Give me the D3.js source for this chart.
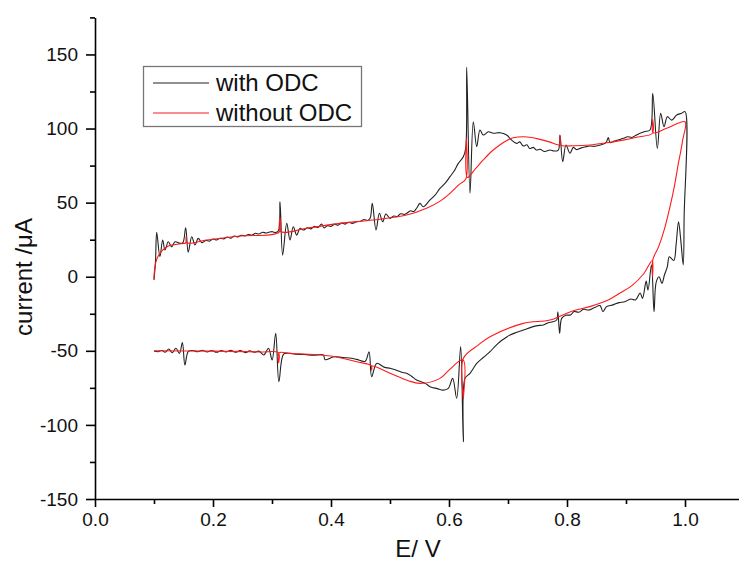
<!DOCTYPE html>
<html><head><meta charset="utf-8">
<script src="https://cdn.jsdelivr.net/npm/d3@7"></script>
<style>
html,body{margin:0;padding:0;background:#fff;}
svg{display:block;font-family:"Liberation Sans",Arial,sans-serif;}
</style></head>
<body><svg id="c" width="739" height="562"></svg>
<script>
// ---- data (E / V, current / µA) ----
const xTicksMajor = [0.0,0.2,0.4,0.6,0.8,1.0];
const xTicksMinor = [0.1,0.3,0.5,0.7,0.9];
const yTicksMajor = [-150,-100,-50,0,50,100,150];
const yTicksMinor = [-125,-75,-25,25,75,125,175];
const seriesNames = ["with ODC","without ODC"];
const seriesColors = ["#222222","#ff1a1a"];

const withOdcForward = [[0.100,-2],[0.1025,10],[0.1046,30],[0.110,13.5],[0.1147,24.8],[0.1186,18],[0.1242,23.6],[0.130,20.2],[0.1356,23.6],[0.144,22.5],[0.149,23],[0.1537,33],[0.158,16.5],[0.164,27],[0.1695,21.4],[0.175,25.9],[0.181,23],[0.188,24.5],[0.194,24],[0.2,25.5],[0.206,24.8],[0.212,26],[0.218,25.5],[0.224,26.8],[0.23,26],[0.236,27.5],[0.242,26.8],[0.248,28],[0.254,27.5],[0.26,28.5],[0.266,28],[0.272,29.3],[0.278,28.8],[0.284,30],[0.29,29.5],[0.296,30.2],[0.301,30.4],[0.306,29.8],[0.311,31],[0.3136,50.6],[0.318,14.6],[0.325,36],[0.3305,24.8],[0.3361,33.7],[0.3419,28.1],[0.3475,32.7],[0.353,31.5],[0.36,33],[0.366,32.3],[0.372,34],[0.378,33.2],[0.384,35.5],[0.388,33],[0.394,34.5],[0.4,34],[0.406,35.5],[0.412,34.8],[0.418,36.2],[0.424,35.5],[0.43,36.8],[0.436,36],[0.4436,37.1],[0.45,37.5],[0.456,38.6],[0.462,38],[0.4663,39.4],[0.47,49.5],[0.4763,31.5],[0.482,42.8],[0.4876,37.1],[0.493,42.3],[0.5,39.4],[0.506,41],[0.512,40.5],[0.518,42.5],[0.524,42],[0.5283,42.8],[0.535,44.5],[0.54,44],[0.545,46.2],[0.5508,49.5],[0.5564,47.2],[0.5678,51.8],[0.5763,55],[0.5847,59.6],[0.5932,63],[0.6017,67.5],[0.609,71.5],[0.6158,76.5],[0.6243,81],[0.6283,86.6],[0.630,141.3],[0.6356,56.3],[0.6412,104.6],[0.647,87.7],[0.6525,99],[0.6582,95.6],[0.6667,97.8],[0.6751,96.8],[0.6864,97.2],[0.6977,95.6],[0.7062,92.2],[0.7147,90],[0.72,91],[0.7259,88.2],[0.732,89],[0.737,86.5],[0.7429,87.3],[0.748,85.5],[0.7542,86],[0.762,84.5],[0.7712,85.5],[0.778,84.8],[0.7853,85.5],[0.7881,95.6],[0.7927,77.6],[0.7983,88.9],[0.805,83.3],[0.8107,87.3],[0.816,85.8],[0.822,86.6],[0.83,87.5],[0.839,88.2],[0.847,88],[0.856,88.9],[0.862,89.5],[0.867,91.1],[0.870,94],[0.873,90.5],[0.88,91.5],[0.888,92.5],[0.8954,93.4],[0.903,94.5],[0.91,94],[0.917,95.5],[0.9237,96.8],[0.932,98],[0.9407,99],[0.9453,123.8],[0.9531,86.6],[0.9588,110.3],[0.9644,101.2],[0.9701,108],[0.9774,105.7],[0.9859,109.1],[0.9944,110.3],[1.0,111.4]];

const withOdcReverse = [[1.0,111.4],[0.9985,40],[0.997,8],[0.993,24],[0.989,37],[0.985,22],[0.981,11],[0.9735,13.5],[0.970,6.7],[0.965,1],[0.961,-4.5],[0.956,0],[0.951,-4],[0.9475,-23.6],[0.9432,8],[0.9373,-9],[0.9342,-3],[0.928,-14.6],[0.924,-11],[0.916,-15.7],[0.908,-15],[0.898,-16.9],[0.888,-17.5],[0.878,-19],[0.867,-20.2],[0.861,-23.6],[0.856,-19.5],[0.846,-21],[0.837,-22.5],[0.828,-22],[0.82,-24],[0.812,-23.5],[0.806,-25.8],[0.798,-26],[0.791,-28.1],[0.7875,-38.2],[0.7845,-23.6],[0.7825,-29.2],[0.776,-30.4],[0.768,-31],[0.76,-32.6],[0.75,-33],[0.74,-34],[0.726,-36],[0.715,-37.5],[0.7034,-39.3],[0.695,-41.5],[0.6864,-43.9],[0.678,-47],[0.6695,-50.6],[0.658,-54.5],[0.647,-58.5],[0.6356,-65.2],[0.6271,-68.6],[0.6243,-111.3],[0.6198,-47.2],[0.613,-82],[0.6062,-68.6],[0.5989,-75.3],[0.5904,-76.5],[0.58,-75.5],[0.5678,-74.2],[0.56,-72],[0.545,-69.7],[0.536,-67],[0.528,-65.2],[0.52,-64.5],[0.51,-63],[0.5,-61.8],[0.49,-61],[0.4774,-58.5],[0.469,-67.5],[0.4644,-50.6],[0.458,-57],[0.4436,-55.8],[0.435,-55],[0.42,-54.5],[0.405,-54],[0.39,-56],[0.387,-52.8],[0.37,-53],[0.355,-52.5],[0.34,-52.3],[0.3305,-51.7],[0.3197,-52.2],[0.3117,-70.8],[0.3063,-38.2],[0.3002,-56.2],[0.2941,-48.3],[0.2861,-52.8],[0.278,-50.2],[0.27,-51],[0.262,-50],[0.255,-51.2],[0.246,-49.8],[0.238,-51],[0.23,-49.6],[0.222,-50.8],[0.214,-49.8],[0.206,-51],[0.198,-49.8],[0.19,-50.8],[0.182,-49.6],[0.174,-50.6],[0.166,-49.8],[0.158,-50.5],[0.1524,-59.6],[0.1481,-44.5],[0.1432,-51.7],[0.1371,-48.3],[0.131,-51.2],[0.125,-48.8],[0.119,-51],[0.113,-49.8],[0.107,-50.6],[0.1,-50.1]];

const withoutOdcForward = [[0.100,-2],[0.101,5],[0.104,11],[0.110,15.8],[0.122,20.3],[0.150,22.5],[0.1535,22.7],[0.1545,27],[0.1555,22.9],[0.19,24.8],[0.246,27.5],[0.3125,30.3],[0.3135,40],[0.3145,30.5],[0.359,32.7],[0.415,36],[0.472,38.3],[0.528,41.6],[0.562,46.2],[0.585,51],[0.6017,56.3],[0.618,62.5],[0.6285,66],[0.6295,93],[0.631,67],[0.645,73],[0.658,78.8],[0.672,84.5],[0.686,88.9],[0.698,92],[0.709,93.8],[0.726,94.5],[0.74,94],[0.754,92.7],[0.77,91],[0.7875,89],[0.7882,95],[0.789,89],[0.811,88.4],[0.839,88.9],[0.867,90.4],[0.895,92.2],[0.92,94.3],[0.9448,96.8],[0.9453,106],[0.9462,97.2],[0.97,100.3],[1.0,104.6]];

const withoutOdcReverse = [[1.0,104.6],[0.996,92],[0.992,83],[0.989,77],[0.982,61],[0.975,48],[0.965,32],[0.955,20],[0.9455,11.5],[0.945,0],[0.9445,11],[0.93,2],[0.91,-6],[0.89,-11],[0.87,-15.7],[0.84,-20],[0.806,-23.6],[0.771,-29.2],[0.726,-31.5],[0.6695,-40.5],[0.65,-46],[0.6245,-55],[0.6243,-82],[0.6238,-56],[0.60,-63],[0.5847,-68.6],[0.5508,-72],[0.53,-70],[0.5,-65.2],[0.4695,-60.3],[0.469,-63],[0.4685,-60.1],[0.4436,-57.4],[0.40,-53.5],[0.3305,-51.7],[0.3117,-51.4],[0.3113,-58],[0.311,-51.4],[0.28,-50.8],[0.2,-50.2],[0.1,-50]];

// ---- layout ----
const svg = d3.select("#c");
const x = d3.scaleLinear().domain([0,1.1]).range([95,744]);
const y = d3.scaleLinear().domain([-150,175]).range([499,17.4]);
const tickFont = "19px";

// axes
const gx = svg.append("g").attr("transform","translate(0,499)");
gx.call(d3.axisBottom(x).tickValues(xTicksMajor).tickSize(8).tickSizeOuter(0).tickPadding(6).tickFormat(d3.format(".1f")));
const gxm = svg.append("g").attr("transform","translate(0,499)");
gxm.call(d3.axisBottom(x).tickValues(xTicksMinor).tickSize(5).tickFormat(""));
gxm.select(".domain").remove();

const gy = svg.append("g").attr("transform","translate(95,0)");
gy.call(d3.axisLeft(y).tickValues(yTicksMajor).tickSize(9).tickSizeOuter(0).tickPadding(8).tickFormat(d=>String(d)));
const gym = svg.append("g").attr("transform","translate(95,0)");
gym.call(d3.axisLeft(y).tickValues(yTicksMinor).tickSize(5).tickFormat(""));
gym.select(".domain").remove();

svg.selectAll(".domain").attr("stroke","#000").attr("stroke-width",1.6);
svg.selectAll(".tick line").attr("stroke","#000").attr("stroke-width",1.6);
svg.selectAll(".tick text").attr("font-size",tickFont).attr("fill","#111")
   .attr("font-family","'Liberation Sans',Arial,sans-serif");

// axis titles
svg.append("text").attr("x",418).attr("y",557).attr("text-anchor","middle")
  .attr("font-size","24px").attr("fill","#111").text("E/ V");
svg.append("text").attr("transform","translate(32,277) rotate(-90)").attr("text-anchor","middle")
  .attr("font-size","24px").attr("fill","#111").text("current /μA");

// series
const lineBlack = d3.line().x(d=>x(d[0])).y(d=>y(d[1])).curve(d3.curveCatmullRom.alpha(0.5));
const lineRed = d3.line().x(d=>x(d[0])).y(d=>y(d[1])).curve(d3.curveCatmullRom.alpha(0.5));
const series = [
  withOdcForward.concat(withOdcReverse.slice(1)),
  withoutOdcForward.concat(withoutOdcReverse.slice(1))
];
svg.append("g").selectAll("path").data(series).join("path")
  .attr("d",(d,i)=> i===0 ? lineBlack(d) : lineRed(d)).attr("fill","none")
  .attr("stroke",(d,i)=>seriesColors[i])
  .attr("stroke-width",1.1)
  .attr("stroke-linejoin","round");

// legend
const lg = svg.append("g");
lg.append("rect").attr("x",143.5).attr("y",66.5).attr("width",218).attr("height",60)
  .attr("fill","#fff").attr("stroke","#777").attr("stroke-width",1.3);
seriesNames.forEach((n,i)=>{
  const yy = 83 + i*30;
  lg.append("line").attr("x1",153).attr("x2",209).attr("y1",yy).attr("y2",yy)
    .attr("stroke",seriesColors[i]).attr("stroke-width",1.1);
  lg.append("text").attr("x",216).attr("y",yy+8).attr("font-size","24px").attr("fill","#111").text(n);
});
</script></body></html>
